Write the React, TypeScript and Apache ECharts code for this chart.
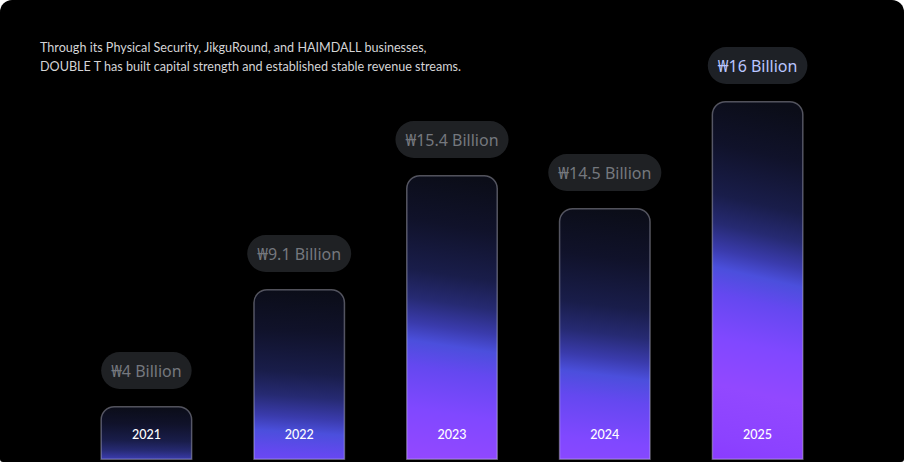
import React, { useEffect, useRef } from "react";
import * as echarts from "echarts";

const years = ["2021", "2022", "2023", "2024", "2025"];
const revenueBillion = [4, 9.1, 15.4, 14.5, 16];
const revenueLabels = ["₩4 Billion", "₩9.1 Billion", "₩15.4 Billion", "₩14.5 Billion", "₩16 Billion"];
// drawn bar heights (stylised, not proportional)
const barLevels = [54, 171, 285, 252, 359];
const highlightIndex = 4;

const titleLines = [
  "Through its Physical Security, JikguRound, and HAIMDALL businesses,",
  "DOUBLE T has built capital strength and established stable revenue streams.",
];

const FONT = "Lato, 'Noto Sans', sans-serif";
const PILL_FONT = "'Noto Sans', sans-serif";

function barGradient(h: number) {
  const t = Math.min(0.98, 0.4 + 0.0004 * h + 0.0000035 * h * h);
  return new echarts.graphic.LinearGradient(0.53, 0, 0.47, 1 / t, [
    { offset: 0, color: "#0b0d18" },
    { offset: 0.14, color: "#10122a" },
    { offset: 0.28, color: "#191d4a" },
    { offset: 0.36, color: "#262a72" },
    { offset: 0.43, color: "#3a3bac" },
    { offset: 0.48, color: "#4b4fdc" },
    { offset: 0.55, color: "#6448f0" },
    { offset: 0.67, color: "#8048ff" },
    { offset: 0.8, color: "#9248ff" },
    { offset: 0.94, color: "#8c42ff" },
    { offset: 1, color: "#8a3cff" },
  ]);
}

export default function App() {
  const ref = useRef<HTMLDivElement>(null);
  useEffect(() => {
    if (!ref.current) return;
    const chart = echarts.init(ref.current, undefined, { renderer: "svg" });
    chart.setOption({
      animation: false,
      backgroundColor: "transparent",
      title: {
        text: titleLines.join("\n"),
        left: 40,
        top: 38,
        padding: 0,
        textStyle: {
          color: "#d4d4d6",
          fontSize: 12.6,
          fontWeight: "normal",
          lineHeight: 19,
          fontFamily: FONT,
        },
      },
      grid: { left: 70, right: 70, top: 60, bottom: 2 },
      xAxis: {
        type: "category",
        data: years,
        z: 10,
        axisLine: { show: false },
        axisTick: { show: false },
        axisLabel: {
          inside: true,
          margin: 19,
          color: "#ffffff",
          fontSize: 12.5,
          fontWeight: 500,
          fontFamily: FONT,
        },
      },
      yAxis: {
        type: "value",
        min: 0,
        max: 400,
        show: false,
        splitLine: { show: false },
      },
      series: [
        {
          type: "bar",
          barWidth: 92,
          data: barLevels.map((h, i) => ({
            value: h,
            revenue: revenueBillion[i],
            itemStyle: {
              color: barGradient(h),
              borderColor: "rgba(210,210,230,0.38)",
              borderWidth: 1.5,
              borderRadius: [13, 13, 0, 0],
            },
            label: {
              show: true,
              position: "top",
              distance: 17,
              formatter: revenueLabels[i],
              color: i === highlightIndex ? "#b9c5ff" : "#75787e",
              backgroundColor: i === highlightIndex ? "#1e2126" : "#1f2124",
              borderRadius: 19,
              padding: [9, 10, 8, 10],
              lineHeight: 20,
              fontSize: 16,
              fontFamily: PILL_FONT,
            },
          })),
        },
      ],
    });
    return () => chart.dispose();
  }, []);
  return (
    <div
      style={{
        position: "fixed",
        left: 0,
        top: 0,
        width: 904,
        height: 462,
        background: "#000",
        borderRadius: "12px 12px 3px 3px",
        overflow: "hidden",
      }}
    >
      <div ref={ref} style={{ width: 904, height: 462 }} />
    </div>
  );
}
